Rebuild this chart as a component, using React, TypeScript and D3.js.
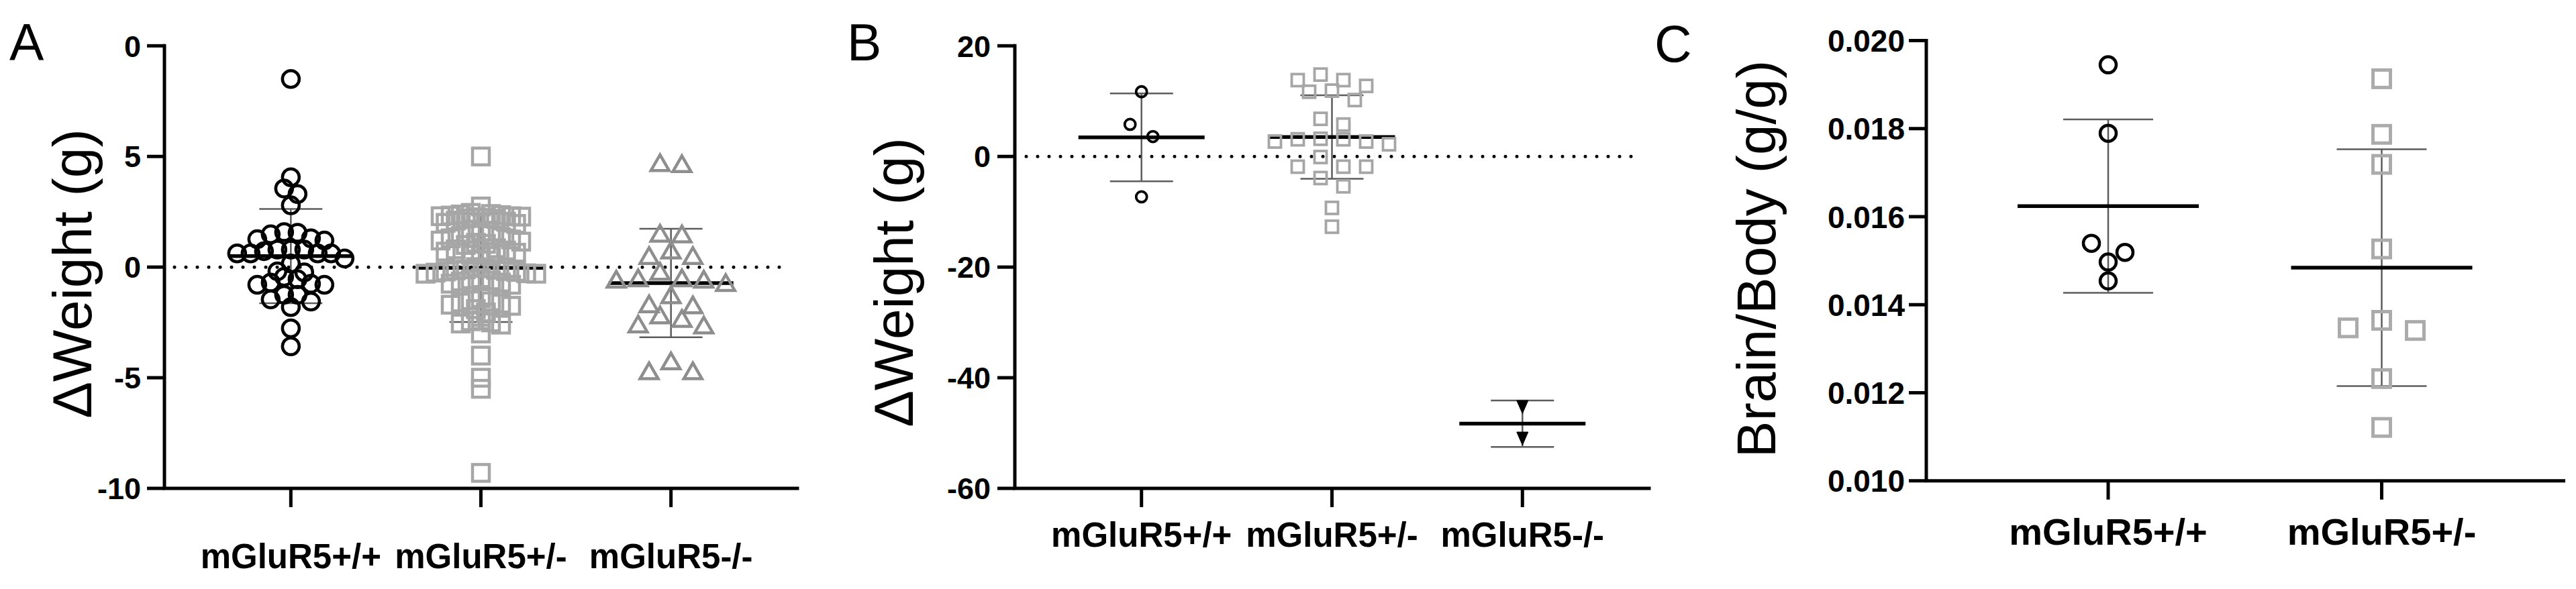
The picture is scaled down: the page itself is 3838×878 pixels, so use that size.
import React, { useEffect } from 'react';
import * as d3 from 'd3';

// ---------- DATA ----------
const categoriesAB = ['mGluR5+/+', 'mGluR5+/-', 'mGluR5-/-'];
const categoriesC = ['mGluR5+/+', 'mGluR5+/-'];

// Panel A: ΔWeight (g)
const aWildType = [8.5, 4.06, 3.55, 3.3, 2.79, 1.58, 1.55, 1.48, 1.3, 1.26, 1.2, 0.79, 0.79, 0.79, 0.72, 0.62, 0.62, 0.62, 0.62, 0.39, 0.16, -0.19, -0.24, -0.44, -0.55, -0.7, -0.75, -0.8, -0.8, -1.25, -1.25, -1.46, -1.56, -1.81, -2.77, -3.58];
const aHet = [5.0, 2.74,
  2.45, 2.4, 2.38, 2.35, 2.33, 2.3, 2.3, 2.28, 2.25, 2.22, 2.2, 2.18,
  2.1, 2.05, 2.0, 1.95,
  1.6, 1.5, 1.45, 1.4, 1.35, 1.3, 1.25, 1.2, 1.15, 1.1, 1.05, 1.0,
  0.85, 0.8, 0.75, 0.7, 0.65, 0.6, 0.55, 0.5,
  0.0, -0.05, -0.1, -0.12, -0.15, -0.18, -0.2, -0.22, -0.25, -0.28, -0.3, -0.3,
  -0.5, -0.55, -0.6, -0.65, -0.7, -0.75, -0.8,
  -1.4, -1.5, -1.55, -1.6, -1.65, -1.7, -1.75, -1.9, -2.05,
  -2.4, -2.45, -2.5, -2.55, -2.6,
  -3.0, -4.0, -5.0, -5.5, -9.3];
const aKnockout = [4.72, 4.67, 1.53, 1.5, 0.77, 0.52, 0.52, -0.19, -0.49, -0.49, -0.55, -0.55, -0.7, -1.25, -1.66, -1.71, -2.16, -2.32, -2.57, -2.62, -4.24, -4.69, -4.69];
const aMeans = [0.5, -0.03, -0.72];
const aSDs = [2.13, 2.45, 2.45];
const aTickValues = [10, 5, 0, -5, -10];
const aTickLabels = ['0', '5', '0', '-5', '-10'];

// Panel B: ΔWeight (g)
const bWildType = [11.7, 5.8, 3.6, -7.3];
const bHet = [14.8, 13.8, 13.8, 12.75, 11.9, 11.7, 10.2, 6.8, 5.77, 3.2, 3.1, 3.1, 2.7, 2.7, 2.2, -0.1, -1.85, -1.85, -1.85, -3.9, -5.4, -9.3, -12.7];
const bKnockout = [-45.3, -51.0];
const bMeans = [3.45, 3.5, -48.3];
const bSDs = [7.95, 7.55, 4.2];
const bTickValues = [20, 0, -20, -40, -60];
const bTickLabels = ['20', '0', '-20', '-40', '-60'];

// Panel C: Brain/Body (g/g)
const cWildType = [0.01945, 0.017895, 0.01519, 0.015395, 0.01497, 0.01454];
const cHet = [0.019133, 0.01787, 0.017188, 0.015267, 0.013645, 0.013474, 0.013415, 0.012322, 0.011212];
const cMeans = [0.01624, 0.01484];
const cSDs = [0.00197, 0.00269];
const cTickValues = [0.020, 0.018, 0.016, 0.014, 0.012, 0.010];
const cTickLabels = ['0.020', '0.018', '0.016', '0.014', '0.012', '0.010'];

// ---------- LAYOUT HELPERS ----------
const FONT = "'Liberation Sans', Arial, Helvetica, sans-serif";

type Shape = 'circle' | 'square' | 'triUp' | 'triDown';
interface GroupStyle {
  shape: Shape; size: number; color: string; sw: number; filled?: boolean;
  step: number; rowH: number; maxSpan: number;
}

function rowLayout(values: number[], y: (v: number) => number, step: number, rowH: number, maxSpan: number): number[] {
  const sorted = values.map((v, i) => ({ v, i })).sort((a, b) => b.v - a.v);
  const out: number[] = new Array(values.length).fill(0);
  let row: { v: number; i: number }[] = [];
  const flush = () => {
    const n = row.length;
    const s = n > 1 ? Math.min(step, maxSpan / (n - 1)) : 0;
    const slots = d3.range(n).map(k => (k - (n - 1) / 2) * s);
    const ordered = slots.slice().sort((a, b) => Math.abs(a) - Math.abs(b) || a - b);
    row.forEach((p, k) => { out[p.i] = ordered[k]; });
    row = [];
  };
  for (const p of sorted) {
    if (row.length && y(p.v) - y(row[0].v) > rowH) flush();
    row.push(p);
  }
  if (row.length) flush();
  return out;
}

function Marker({ cx, cy, st }: { cx: number; cy: number; st: GroupStyle }) {
  const s = st.size;
  const common = {
    fill: st.filled ? st.color : 'none',
    stroke: st.color,
    strokeWidth: st.sw,
  };
  if (st.shape === 'circle') return <circle cx={cx} cy={cy} r={s / 2} {...common} />;
  if (st.shape === 'square') return <rect x={cx - s / 2} y={cy - s / 2} width={s} height={s} {...common} />;
  const h = s * 0.87;
  if (st.shape === 'triUp') {
    return <path d={`M${cx - s / 2},${cy + h / 2}L${cx + s / 2},${cy + h / 2}L${cx},${cy - h / 2}Z`} {...common} strokeLinejoin="miter" />;
  }
  const hd = s * 1.15;
  return <path d={`M${cx - s / 2},${cy - hd / 2}L${cx + s / 2},${cy - hd / 2}L${cx},${cy + hd / 2}Z`} {...common} />;
}

interface PanelProps {
  letter: string; letterX: number; letterY: number;
  title: string; titleX: number; titleY: number;
  categories: string[]; groups: number[][]; means: number[]; sds: number[];
  domain: [number, number]; yRange: [number, number]; xRange: [number, number];
  tickValues: number[]; tickLabels: string[]; tickLabelGap: number; tickFont: number;
  catFont: number; catBaseline: number;
  meanHalf: number; capHalf: number;
  zeroLine: [number, number] | null;
  styles: GroupStyle[];
}

function Panel(p: PanelProps) {
  const y = d3.scaleLinear().domain(p.domain).range(p.yRange);
  const x = d3.scalePoint<string>().domain(p.categories).range(p.xRange).padding(0.665);
  const x0 = p.xRange[0];
  const yb = p.yRange[0];
  const yt = p.yRange[1];
  return (
    <g>
      <text x={p.letterX} y={p.letterY} fontFamily={FONT} fontSize={77} fill="#000">{p.letter}</text>
      <text transform={`translate(${p.titleX},${p.titleY}) rotate(-90)`} textAnchor="middle" fontFamily={FONT} fontSize={82} fill="#000">{p.title}</text>
      {p.zeroLine && (
        <line x1={p.zeroLine[0]} x2={p.zeroLine[1]} y1={y(0)} y2={y(0)} stroke="#000" strokeWidth={5} strokeDasharray="0 17" strokeLinecap="round" />
      )}
      {/* axes */}
      <path d={`M${x0},${yt}V${yb}H${p.xRange[1]}`} fill="none" stroke="#000" strokeWidth={5} strokeLinecap="square" />
      {p.tickValues.map((v, i) => (
        <g key={`t${i}`}>
          <line x1={x0 - 26} x2={x0} y1={y(v)} y2={y(v)} stroke="#000" strokeWidth={5} />
          <text x={x0 - p.tickLabelGap} y={y(v)} dy="0.36em" textAnchor="end" fontFamily={FONT} fontWeight="bold" fontSize={p.tickFont} fill="#000">{p.tickLabels[i]}</text>
        </g>
      ))}
      {p.categories.map(c => (
        <g key={c}>
          <line x1={x(c)!} x2={x(c)!} y1={yb} y2={yb + 28} stroke="#000" strokeWidth={5} />
          <text x={x(c)!} y={p.catBaseline} textAnchor="middle" fontFamily={FONT} fontWeight="bold" fontSize={p.catFont} fill="#000">{c}</text>
        </g>
      ))}
      {/* error bars */}
      {p.categories.map((c, i) => {
        const cx = x(c)!;
        const hi = y(p.means[i] + p.sds[i]);
        const lo = y(p.means[i] - p.sds[i]);
        return (
          <g key={`e${i}`} stroke="#5c5c5c" strokeWidth={2.5}>
            <line x1={cx} x2={cx} y1={hi} y2={lo} />
            <line x1={cx - p.capHalf} x2={cx + p.capHalf} y1={hi} y2={hi} />
            <line x1={cx - p.capHalf} x2={cx + p.capHalf} y1={lo} y2={lo} />
          </g>
        );
      })}
      {p.categories.map((c, i) => (
        <line key={`m${i}`} x1={x(c)! - p.meanHalf} x2={x(c)! + p.meanHalf} y1={y(p.means[i])} y2={y(p.means[i])} stroke="#000" strokeWidth={5.5} />
      ))}
      {/* points */}
      {p.categories.map((c, gi) => {
        const st = p.styles[gi];
        const vals = p.groups[gi];
        const offs = rowLayout(vals, y, st.step, st.rowH, st.maxSpan);
        return (
          <g key={`p${gi}`}>
            {vals.map((v, k) => <Marker key={k} cx={x(c)! + offs[k]} cy={y(v)} st={st} />)}
          </g>
        );
      })}
    </g>
  );
}

export default function App() {
  useEffect(() => {
    document.body.style.margin = '0';
    document.body.style.background = '#fff';
  }, []);
  const SQ = '#a6a6a6';
  const TRI = '#8e8e8e';
  return (
    <svg width={3838} height={878} viewBox="0 0 3838 878" style={{ position: 'absolute', left: 0, top: 0, background: '#fff' }}>
      <rect x={0} y={0} width={3838} height={878} fill="#fff" />
      <Panel
        letter="A" letterX={14} letterY={90}
        title="ΔWeight (g)" titleX={136} titleY={408}
        categories={categoriesAB} groups={[aWildType, aHet, aKnockout]} means={aMeans} sds={aSDs}
        domain={[-10, 10]} yRange={[728, 68.3]} xRange={[245, 1188]}
        tickValues={aTickValues} tickLabels={aTickLabels} tickLabelGap={35} tickFont={45}
        catFont={51} catBaseline={847}
        meanHalf={93} capHalf={47}
        zeroLine={[260, 1173]}
        styles={[
          { shape: 'circle', size: 25, color: '#000', sw: 4.5, step: 20, rowH: 16, maxSpan: 165 },
          { shape: 'square', size: 25, color: SQ, sw: 4.5, step: 15, rowH: 16, maxSpan: 165 },
          { shape: 'triUp', size: 27, color: TRI, sw: 4.5, step: 32.6, rowH: 18, maxSpan: 163 },
        ]}
      />
      <Panel
        letter="B" letterX={1262} letterY={90}
        title="ΔWeight (g)" titleX={1360} titleY={421}
        categories={categoriesAB} groups={[bWildType, bHet, bKnockout]} means={bMeans} sds={bSDs}
        domain={[-60, 20]} yRange={[728, 68.3]} xRange={[1512, 2457]}
        tickValues={bTickValues} tickLabels={bTickLabels} tickLabelGap={36} tickFont={45}
        catFont={51} catBaseline={815}
        meanHalf={94} capHalf={47}
        zeroLine={[1529, 2437]}
        styles={[
          { shape: 'circle', size: 16, color: '#000', sw: 3.8, step: 34, rowH: 20, maxSpan: 170 },
          { shape: 'square', size: 18, color: SQ, sw: 3.8, step: 34, rowH: 20, maxSpan: 170 },
          { shape: 'triDown', size: 17, color: '#000', sw: 1, filled: true, step: 34, rowH: 20, maxSpan: 170 },
        ]}
      />
      <Panel
        letter="C" letterX={2465} letterY={92}
        title="Brain/Body (g/g)" titleX={2645} titleY={386}
        categories={categoriesC} groups={[cWildType, cHet]} means={cMeans} sds={cSDs}
        domain={[0.010, 0.020]} yRange={[716.7, 60.5]} xRange={[2870, 3819.5]}
        tickValues={cTickValues} tickLabels={cTickLabels} tickLabelGap={32} tickFont={46}
        catFont={56} catBaseline={812}
        meanHalf={135} capHalf={67}
        zeroLine={null}
        styles={[
          { shape: 'circle', size: 24, color: '#000', sw: 4.5, step: 50, rowH: 20, maxSpan: 170 },
          { shape: 'square', size: 26, color: '#ababab', sw: 5, step: 50, rowH: 20, maxSpan: 170 },
        ]}
      />
    </svg>
  );
}
